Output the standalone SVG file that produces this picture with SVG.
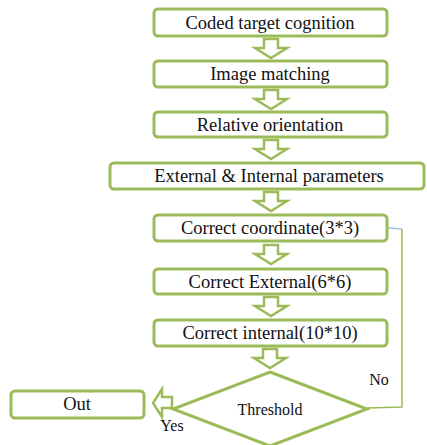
<svg xmlns="http://www.w3.org/2000/svg" xmlns:xlink="http://www.w3.org/1999/xlink" width="427" height="445" viewBox="0 0 427 445">
<style>
.box{fill:#fff;stroke:#9BBB59;stroke-width:3}
.arr{fill:#fff;stroke:#9BBB59;stroke-width:2.5;stroke-linejoin:miter}
text{fill:#111;text-anchor:middle;font-family:'Liberation Serif','Times New Roman',serif}
.t{font-size:18.5px}
.s{font-size:16px}
</style>
<defs>
<path id="down" d="M-7,0 H7 V9 H16 L0,19 L-16,9 H-7 Z"/>
</defs>
<rect width="427" height="445" fill="#fff"/>
<g id="connectors">
<use xlink:href="#down" class="arr" transform="translate(271,39)"/>
<use xlink:href="#down" class="arr" transform="translate(271,90)"/>
<use xlink:href="#down" class="arr" transform="translate(271,140)"/>
<use xlink:href="#down" class="arr" transform="translate(271,192)"/>
<use xlink:href="#down" class="arr" transform="translate(271,245)"/>
<use xlink:href="#down" class="arr" transform="translate(271,297)"/>
<use xlink:href="#down" class="arr" transform="translate(270,349)"/>
<path class="arr" d="M172,397 H162 V389 L153,403 L162,417 V408 H172 Z"/>
<polyline points="367,408 402,407 402,229" fill="none" stroke="#9BBB59" stroke-width="1.5"/>
<line x1="388" y1="228" x2="402" y2="229" stroke="#9DC3E6" stroke-width="1.5"/>
</g>
<g id="n1"><rect class="box" x="154" y="9" width="233" height="27" rx="4"/><text class="t" x="270" y="29">Coded target cognition</text></g>
<g id="n2"><rect class="box" x="154" y="61" width="233" height="26" rx="4"/><text class="t" x="270" y="80">Image matching</text></g>
<g id="n3"><rect class="box" x="154" y="112" width="233" height="25" rx="4"/><text class="t" x="270" y="131">Relative orientation</text></g>
<g id="n4"><rect class="box" x="110" y="163" width="314" height="26" rx="4"/><text class="t" x="269" y="182">External &amp; Internal parameters</text></g>
<g id="n5"><rect class="box" x="154" y="215" width="233" height="26" rx="4"/><text class="t" x="270" y="234">Correct coordinate(3*3)</text></g>
<g id="n6"><rect class="box" x="154" y="269" width="233" height="25" rx="4"/><text class="t" x="270" y="288">Correct External(6*6)</text></g>
<g id="n7"><rect class="box" x="154" y="320" width="233" height="26" rx="4"/><text class="t" x="270" y="339">Correct internal(10*10)</text></g>
<g id="n8"><polygon class="box" points="270,372 367,409 270,446 173,409"/><text class="s" x="270" y="415">Threshold</text></g>
<g id="n9"><rect class="box" x="11" y="391" width="133" height="27" rx="4"/><text class="t" x="77" y="410">Out</text></g>
<g id="labels">
<text class="s" x="172" y="431">Yes</text>
<text class="s" x="379" y="385">No</text>
</g>
</svg>
